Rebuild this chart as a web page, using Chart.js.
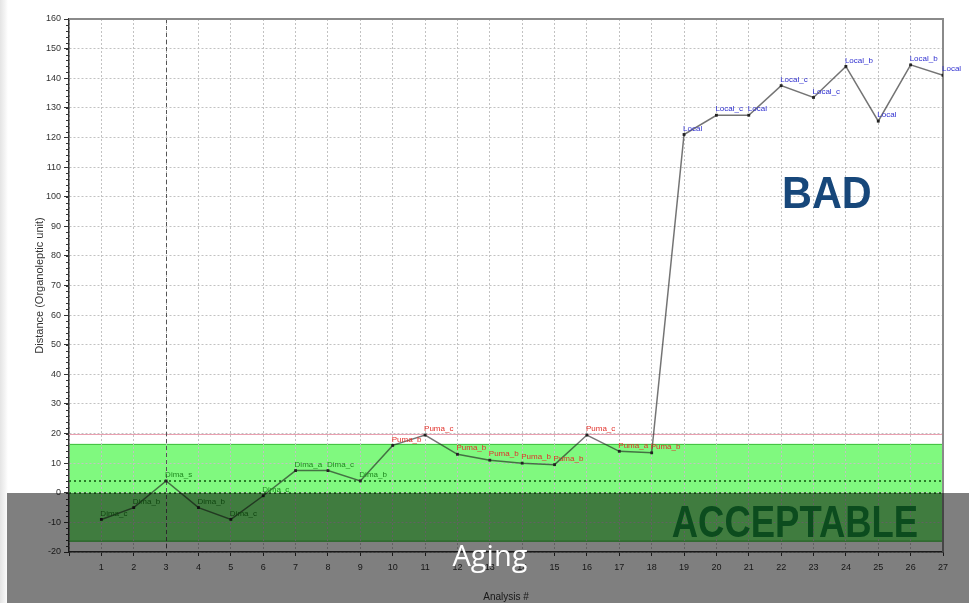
<!DOCTYPE html>
<html>
<head>
<meta charset="utf-8">
<script src="https://cdn.jsdelivr.net/npm/chart.js@4.4.1/dist/chart.umd.min.js"></script>
<style>
  html, body { margin: 0; padding: 0; background: #fff; }
  #wrap { position: relative; width: 969px; height: 603px; overflow: hidden;
    background: linear-gradient(to right, #e4e4e4 0px, #f4f4f4 5px, #fff 8px); }
  #chart { position: absolute; left: 0; top: 0; }
  #shade { position: absolute; left: 7px; top: 493px; width: 962px; height: 110px;
    background: rgba(0, 0, 0, 0.5); }
  .tag { position: absolute; white-space: nowrap; line-height: 1; }
  #bad { left: 782px; top: 167px; font: bold 45px "Liberation Sans", Arial, sans-serif;
    color: #17477a; transform: scaleX(0.92); transform-origin: left center; }
  #ok { right: 51px; top: 496px; font: bold 45px "Liberation Sans", Arial, sans-serif;
    color: #0c4c1e; transform: scaleX(0.81); transform-origin: right center; }
  #aging { left: 490px; top: 535px; transform: translateX(-50%);
    font: 29px "Open Sans", sans-serif; color: #fff; }
</style>
</head>
<body>
<div id="wrap">
  <canvas id="chart" width="969" height="603"></canvas>
  <div id="shade"></div>
  <div class="tag" id="bad">BAD</div>
  <div class="tag" id="ok">ACCEPTABLE</div>
  <div class="tag" id="aging">Aging</div>
</div>
<script>
// analysis number on x, distance on y
const analysisNums = [1, 2, 3, 4, 5, 6, 7, 8, 9, 10, 11, 12, 13, 14, 15, 16, 17, 18, 19, 20, 21, 22, 23, 24, 25, 26, 27];
const distances = [-9, -5, 4, -5, -9, -1, 7.5, 7.5, 4, 16, 19.5, 13, 11, 10, 9.5, 19.5, 14, 13.5,
  121, 127.5, 127.5, 137.5, 133.5, 144, 125.5, 144.5, 141];
const sampleNames = ["Dima_c", "Dima_b", "Dima_s", "Dima_b", "Dima_c", "Dima_c", "Dima_a", "Dima_c", "Dima_b",
  "Puma_b", "Puma_c", "Puma_b", "Puma_b", "Puma_b", "Puma_b", "Puma_c", "Puma_a", "Puma_b",
  "Local", "Local_c", "Local", "Local_c", "Local_c", "Local_b", "Local", "Local_b", "Local"];

const Y_MIN = -20;
const Y_MAX = 160;
const Y_STEP = 10;
const X_MAX = 27;

// acceptable band and reference lines
const BAND_LOW = -16.5;
const BAND_HIGH = 16.5;
const DOTTED_LEVELS = [0, 4];
const LIMIT_LEVEL = 20;
const MARK_X = 3;

const groupColors = { Dima: "#1f8a1f", Puma: "#e2312b", Local: "#3030d0" };

/** 초록 구간 (격자 아래) */
const bandPlugin = {
  id: "band",
  beforeDraw(chart) {
    const { ctx, chartArea } = chart;
    const y = chart.scales.y;
    const top = y.getPixelForValue(BAND_HIGH);
    const bot = y.getPixelForValue(BAND_LOW);
    ctx.save();
    ctx.fillStyle = "#80f97f";
    ctx.fillRect(chartArea.left, top, chartArea.right - chartArea.left, bot - top);
    ctx.strokeStyle = "#3fbf3f";
    ctx.lineWidth = 1;
    ctx.beginPath();
    ctx.moveTo(chartArea.left, top + 0.5);
    ctx.lineTo(chartArea.right, top + 0.5);
    ctx.moveTo(chartArea.left, bot - 0.5);
    ctx.lineTo(chartArea.right, bot - 0.5);
    ctx.stroke();
    ctx.restore();
  },
};

/** 기준선, 테두리, 보조 눈금 */
const refLinesPlugin = {
  id: "refLines",
  beforeDatasetsDraw(chart) {
    const { ctx, chartArea } = chart;
    const x = chart.scales.x;
    const y = chart.scales.y;
    ctx.save();

    // dotted green levels
    ctx.strokeStyle = "#2b7d2b";
    ctx.lineWidth = 2;
    ctx.setLineDash([2, 3]);
    DOTTED_LEVELS.forEach((v) => {
      const py = Math.round(y.getPixelForValue(v));
      ctx.beginPath();
      ctx.moveTo(chartArea.left, py);
      ctx.lineTo(chartArea.right, py);
      ctx.stroke();
    });

    // pink limit line
    ctx.strokeStyle = "#e8a0b0";
    ctx.lineWidth = 1;
    ctx.setLineDash([]);
    const ly = Math.round(y.getPixelForValue(LIMIT_LEVEL)) + 0.5;
    ctx.beginPath();
    ctx.moveTo(chartArea.left, ly);
    ctx.lineTo(chartArea.right, ly);
    ctx.stroke();

    // vertical dashed marker
    ctx.strokeStyle = "#555";
    ctx.setLineDash([4, 3]);
    const mx = Math.round(x.getPixelForValue(MARK_X)) + 0.5;
    ctx.beginPath();
    ctx.moveTo(mx, chartArea.top);
    ctx.lineTo(mx, chartArea.bottom);
    ctx.stroke();

    // top and right frame
    ctx.setLineDash([]);
    ctx.strokeStyle = "#8a8a8a";
    ctx.lineWidth = 2;
    ctx.beginPath();
    ctx.moveTo(chartArea.left, chartArea.top);
    ctx.lineTo(chartArea.right, chartArea.top);
    ctx.lineTo(chartArea.right, chartArea.bottom);
    ctx.stroke();

    // minor ticks on y axis
    ctx.strokeStyle = "#333";
    ctx.lineWidth = 1;
    ctx.beginPath();
    for (let v = Y_MIN; v <= Y_MAX; v += 2) {
      const py = Math.round(y.getPixelForValue(v)) + 0.5;
      ctx.moveTo(chartArea.left - 3, py);
      ctx.lineTo(chartArea.left, py);
    }
    ctx.stroke();
    ctx.restore();
  },
};

/** 점 라벨 */
const pointLabelPlugin = {
  id: "pointLabels",
  afterDatasetsDraw(chart) {
    const { ctx } = chart;
    const meta = chart.getDatasetMeta(0);
    ctx.save();
    ctx.font = "8px 'Liberation Sans', Arial, sans-serif";
    ctx.textAlign = "left";
    ctx.textBaseline = "bottom";
    meta.data.forEach((pt, i) => {
      const name = sampleNames[i];
      ctx.fillStyle = groupColors[name.split("_")[0]] || "#333";
      ctx.fillText(name, pt.x - 1, pt.y - 2);
    });
    ctx.restore();
  },
};

const ctx = document.getElementById("chart").getContext("2d");
new Chart(ctx, {
  type: "line",
  data: {
    datasets: [
      {
        label: "Distance",
        data: analysisNums.map((n, i) => ({ x: n, y: distances[i] })),
        borderColor: "rgba(30, 30, 30, 0.62)",
        borderWidth: 1.5,
        tension: 0,
        pointStyle: "rect",
        pointRadius: 2,
        pointBackgroundColor: "#222",
        pointBorderColor: "#222",
        pointBorderWidth: 0,
      },
    ],
  },
  options: {
    responsive: false,
    animation: false,
    layout: { padding: { top: 19, right: 26, left: 0, bottom: 0 } },
    scales: {
      x: {
        type: "linear",
        min: 0,
        max: X_MAX,
        afterFit: (s) => { s.height = 51; },
        ticks: {
          stepSize: 1,
          autoSkip: false,
          maxRotation: 0,
          padding: 6,
          color: "#333",
          font: { size: 9, family: "'Liberation Sans', Arial, sans-serif" },
          callback: (v) => (v === 0 ? "" : v),
        },
        grid: {
          color: "#c2c2c2",
          lineWidth: 1,
          drawTicks: true,
          tickLength: 4,
          tickColor: "#333",
        },
        border: { display: true, color: "#333", width: 1.5, dash: [2, 2] },
        title: {
          display: true,
          text: "Analysis #",
          color: "#333",
          font: { size: 10, family: "'Liberation Sans', Arial, sans-serif" },
          padding: { top: 5, bottom: 0 },
        },
      },
      y: {
        min: Y_MIN,
        max: Y_MAX,
        afterFit: (s) => { s.width = 69; },
        ticks: {
          stepSize: Y_STEP,
          padding: 3,
          color: "#333",
          font: { size: 9, family: "'Liberation Sans', Arial, sans-serif" },
        },
        grid: {
          color: "#c2c2c2",
          lineWidth: 1,
          drawTicks: true,
          tickLength: 5,
          tickColor: "#333",
        },
        border: { display: true, color: "#333", width: 1.5, dash: [2, 2] },
        title: {
          display: true,
          text: "Distance (Organoleptic unit)",
          color: "#333",
          font: { size: 11, family: "'Liberation Sans', Arial, sans-serif" },
          padding: { top: 33, bottom: 0 },
        },
      },
    },
    plugins: {
      legend: { display: false },
      tooltip: { enabled: false },
    },
  },
  plugins: [bandPlugin, refLinesPlugin, pointLabelPlugin],
});
</script>
</body>
</html>
